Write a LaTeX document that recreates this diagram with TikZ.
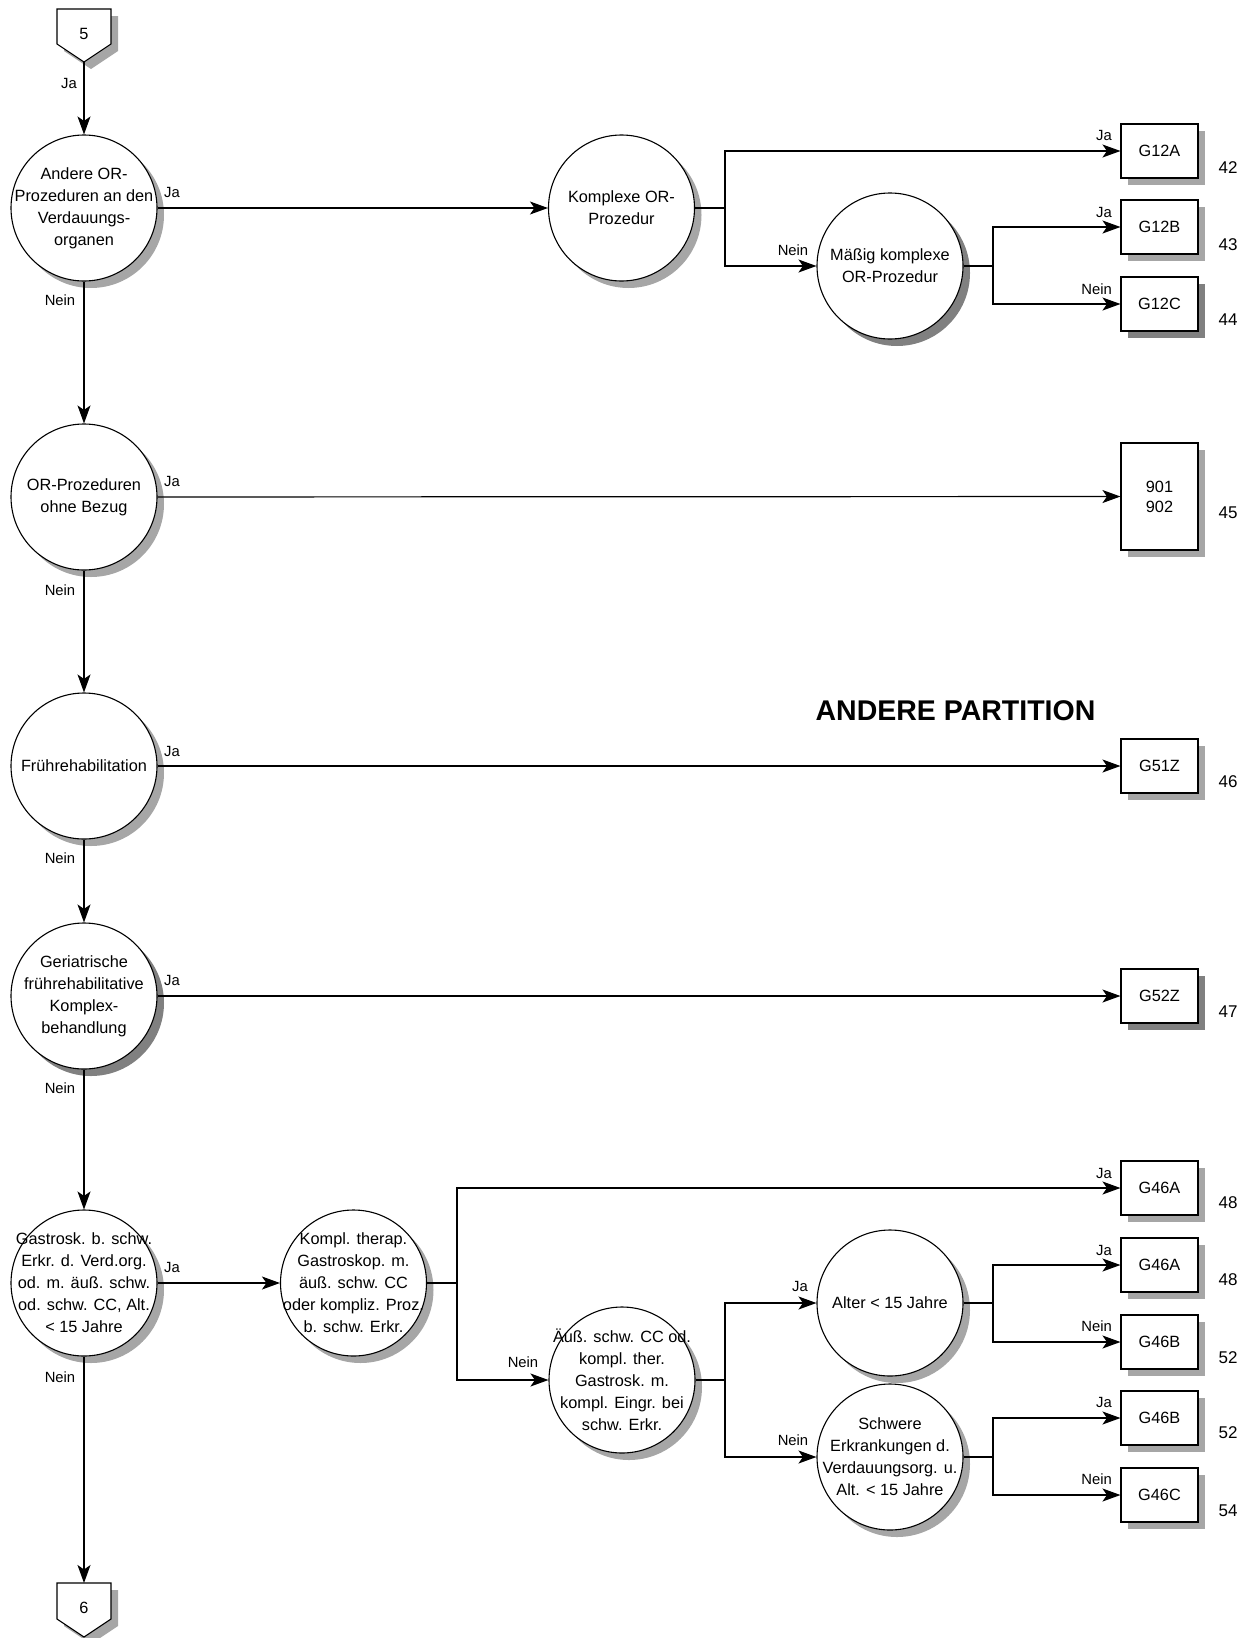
\documentclass[tikz,border=0pt]{standalone}
\usepackage{fontspec}
\setmainfont{Liberation Sans}
\usetikzlibrary{arrows.meta,shadows}
\begin{document}
\begin{tikzpicture}[x=1pt,y=-1pt,
  dec/.style={circle,draw,line width=1.1pt,fill=white,minimum size=146pt,inner sep=0pt},
  ctext/.style={align=center,inner sep=0pt,font=\fontsize{16.3}{22}\selectfont},
  shA/.style={drop shadow={shadow xshift=7pt,shadow yshift=-7pt,fill=black!35,opacity=1}},
  shB/.style={drop shadow={shadow xshift=7pt,shadow yshift=-7pt,fill=black!50,opacity=1}},
  res/.style={rectangle,draw,line width=1.1pt,fill=white,minimum width=77pt,minimum height=54pt,inner sep=0pt,align=center,font=\fontsize{16.3}{20}\selectfont},
  lbl/.style={font=\fontsize{14.8}{16}\selectfont,inner sep=0pt},
  num/.style={font=\fontsize{17}{19}\selectfont,inner sep=0pt},
  arr/.style={line width=1.2pt,-{Stealth[length=18pt,width=13pt,inset=4.5pt]}},
  ln/.style={line width=1.2pt},
  pent/.style={draw,line width=1.1pt,fill=white},
  pshadow/.style={fill=black!35}
]
\useasboundingbox (0,0) rectangle (1251,1638);

% off-page connector 5
\fill[pshadow] (64,16) -- (118,16) -- (118,51) -- (91,69) -- (64,51) -- cycle;
\draw[pent] (57,9) -- (111,9) -- (111,44) -- (84,62) -- (57,44) -- cycle;
\node[font=\fontsize{16.3}{18}\selectfont] (p5) at (84,34) {5};
\coordinate (p5tip) at (84,62);

% off-page connector 6
\fill[pshadow] (64,1590) -- (118,1590) -- (118,1626) -- (91,1644) -- (64,1626) -- cycle;
\draw[pent] (57,1583) -- (111,1583) -- (111,1619) -- (84,1637) -- (57,1619) -- cycle;
\node[font=\fontsize{16.3}{18}\selectfont] (p6) at (84,1608) {6};
\coordinate (p6top) at (84,1583);

% main column decisions
\node[dec,shA] (c1) at (84,208) {};
\node[ctext] at (c1) {Andere OR-\\Prozeduren an den\\Verdauungs-\\organen};
\node[dec,shA] (c2) at (84,497) {};
\node[ctext] at (c2) {OR-Prozeduren\\ohne Bezug};
\node[dec,shA] (c3) at (84,766) {};
\node[ctext] at (c3) {Frührehabilitation};
\node[dec,shB] (c4) at (84,996) {};
\node[ctext] at (c4) {Geriatrische\\frührehabilitative\\Komplex-\\behandlung};
\node[dec,shA] (c5) at (84,1283) {};
\node[ctext] at (c5) {Gastrosk. b. schw.\\Erkr. d. Verd.org.\\od. m. äuß. schw.\\od. schw. CC, Alt.\\< 15 Jahre};

% other decisions
\node[dec,shA] (k1) at (621.5,208) {};
\node[ctext] at (k1) {Komplexe OR-\\Prozedur};
\node[dec,shB] (k2) at (890,266) {};
\node[ctext] at (k2) {Mäßig komplexe\\OR-Prozedur};
\node[dec,shA] (g1) at (353.5,1283) {};
\node[ctext] at (g1) {Kompl. therap.\\Gastroskop. m.\\äuß. schw. CC\\oder kompliz. Proz.\\b. schw. Erkr.};
\node[dec,shA] (g2) at (622,1380) {};
\node[ctext] at (g2) {Äuß. schw. CC od.\\kompl. ther.\\Gastrosk. m.\\kompl. Eingr. bei\\schw. Erkr.};
\node[dec,shA] (g3) at (890,1303) {};
\node[ctext] at (g3) {Alter < 15 Jahre};
\node[dec,shA] (g4) at (890,1457) {};
\node[ctext] at (g4) {Schwere\\Erkrankungen d.\\Verdauungsorg. u.\\Alt. < 15 Jahre};

% result boxes
\node[res,shA] (r12a) at (1159.5,151) {G12A};
\node[res,shA] (r12b) at (1159.5,227) {G12B};
\node[res,shB] (r12c) at (1159.5,304) {G12C};
\node[res,shA,minimum height=107pt] (r901) at (1159.5,496.5) {901\\902};
\node[res,shA] (r51) at (1159.5,766) {G51Z};
\node[res,shB] (r52) at (1159.5,996) {G52Z};
\node[res,shA] (r46a) at (1159.5,1188) {G46A};
\node[res,shA] (r46a2) at (1159.5,1265) {G46A};
\node[res,shA] (r46b) at (1159.5,1342) {G46B};
\node[res,shA] (r46b2) at (1159.5,1418) {G46B};
\node[res,shA] (r46c) at (1159.5,1495) {G46C};

% numbers
\node[num] (n42) at (1228,168) {42};
\node[num] (n43) at (1228,245) {43};
\node[num] (n44) at (1228,320) {44};
\node[num] (n45) at (1228,513) {45};
\node[num] (n46) at (1228,782) {46};
\node[num] (n47) at (1228,1012) {47};
\node[num] (n48) at (1228,1203) {48};
\node[num] (n48b) at (1228,1280) {48};
\node[num] (n52) at (1228,1358) {52};
\node[num] (n52b) at (1228,1433) {52};
\node[num] (n54) at (1228,1511) {54};

% title
\node[font=\fontsize{28.5}{32}\selectfont\bfseries] (title) at (955.5,711) {ANDERE PARTITION};

% junction coordinates
\coordinate (jk1) at (725,208);
\coordinate (jk2) at (993,266);
\coordinate (jg1) at (457,1283);
\coordinate (jg2) at (725,1380);
\coordinate (jg3) at (993,1303);
\coordinate (jg4) at (993,1457);

% trunk
\draw[arr] (p5tip) -- (c1);
\draw[arr] (c1) -- (c2);
\draw[arr] (c2) -- (c3);
\draw[arr] (c3) -- (c4);
\draw[arr] (c4) -- (c5);
\draw[arr] (c5) -- (p6top);

% branches
\draw[arr] (c1) -- (k1);
\draw[ln] (k1.east) -- (jk1);
\draw[arr] (jk1) |- (r12a.west);
\draw[arr] (jk1) |- (k2.west);
\draw[ln] (k2.east) -- (jk2);
\draw[arr] (jk2) |- (r12b.west);
\draw[arr] (jk2) |- (r12c.west);

\draw[arr] (c2) -- (r901);
\draw[arr] (c3) -- (r51);
\draw[arr] (c4) -- (r52);

\draw[arr] (c5) -- (g1);
\draw[ln] (g1.east) -- (jg1);
\draw[arr] (jg1) |- (r46a.west);
\draw[arr] (jg1) |- (g2.west);
\draw[ln] (g2.east) -- (jg2);
\draw[arr] (jg2) |- (g3.west);
\draw[arr] (jg2) |- (g4.west);
\draw[ln] (g3.east) -- (jg3);
\draw[arr] (jg3) |- (r46a2.west);
\draw[arr] (jg3) |- (r46b.west);
\draw[ln] (g4.east) -- (jg4);
\draw[arr] (jg4) |- (r46b2.west);
\draw[arr] (jg4) |- (r46c.west);

% labels
\node[lbl] (l0) at (69,83) {Ja};
\node[lbl] (l1) at (172,192) {Ja};
\node[lbl] (l2) at (172,481) {Ja};
\node[lbl] (l3) at (172,751) {Ja};
\node[lbl] (l4) at (172,980) {Ja};
\node[lbl] (l5) at (172,1267) {Ja};
\node[lbl] (m1) at (60,300) {Nein};
\node[lbl] (m2) at (60,590) {Nein};
\node[lbl] (m3) at (60,858) {Nein};
\node[lbl] (m4) at (60,1088) {Nein};
\node[lbl] (m5) at (60,1377) {Nein};
\node[lbl,anchor=east] (b1) at (1112,135) {Ja};
\node[lbl,anchor=east] (b2) at (1112,212) {Ja};
\node[lbl,anchor=east] (b3) at (1112,289) {Nein};
\node[lbl,anchor=east] (b4) at (1112,1173) {Ja};
\node[lbl,anchor=east] (b5) at (1112,1250) {Ja};
\node[lbl,anchor=east] (b6) at (1112,1326) {Nein};
\node[lbl,anchor=east] (b7) at (1112,1402) {Ja};
\node[lbl,anchor=east] (b8) at (1112,1479) {Nein};
\node[lbl] (k2n) at (793,250) {Nein};
\node[lbl] (g2n) at (523,1362) {Nein};
\node[lbl] (g3j) at (800,1286) {Ja};
\node[lbl] (g4n) at (793,1440) {Nein};
\end{tikzpicture}
\end{document}
